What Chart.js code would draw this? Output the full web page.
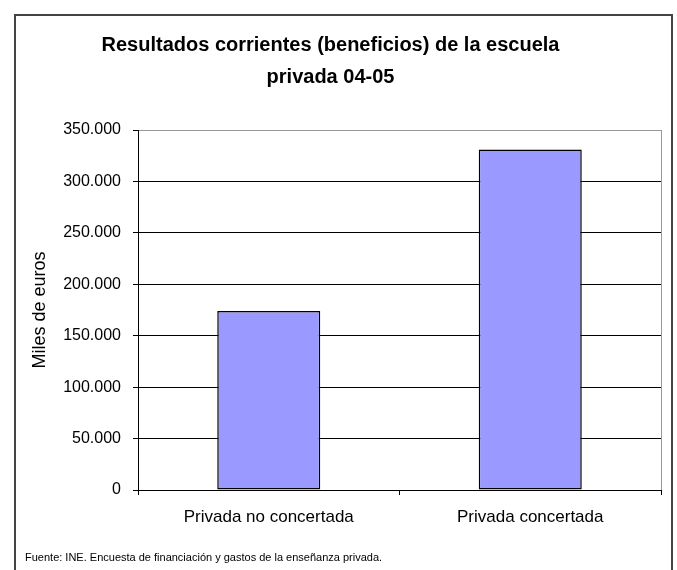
<!DOCTYPE html>
<html>
<head>
<meta charset="utf-8">
<script src="https://cdn.jsdelivr.net/npm/chart.js@4/dist/chart.umd.min.js"></script>
<style>
  body { margin: 0; background: #fff; }
  canvas { display: block; }
</style>
</head>
<body>
<canvas id="graph1" width="677" height="570"></canvas>
<script>
// chart data
const categories = ["Privada no concertada", "Privada concertada"];
const beneficios = [174000, 331000];
const titleLines = ["Resultados corrientes (beneficios) de la escuela", "privada 04-05"];
const yAxisTitle = "Miles de euros";
const yMax = 350000;
const yStep = 50000;
const sourceNote = "Fuente: INE. Encuesta de financiación y gastos de la enseñanza privada.";

const fontFamily = "'Liberation Sans', Arial, sans-serif";

// thousands with a dot, like 350.000
function fmt(v) {
    return String(v).replace(/\B(?=(\d{3})+(?!\d))/g, ".");
}

// outer frame, plot right edge and the source line
const framePlugin = {
    id: "frame",
    afterDraw(chart) {
        const ctx = chart.ctx;
        const a = chart.chartArea;
        ctx.save();
        ctx.strokeStyle = "#999";
        ctx.lineWidth = 1;
        ctx.beginPath();
        ctx.moveTo(a.right + 0.5, a.top);
        ctx.lineTo(a.right + 0.5, a.bottom);
        ctx.stroke();

        ctx.strokeStyle = "#444";
        ctx.lineWidth = 2;
        ctx.strokeRect(15, 15, 657, 570);

        ctx.fillStyle = "#000";
        ctx.font = "11px " + fontFamily;
        ctx.textBaseline = "middle";
        ctx.textAlign = "left";
        ctx.fillText(sourceNote, 25, 558);
        ctx.restore();
    }
};

const g1 = new Chart("graph1", {
    type: "bar",
    data: {
        labels: categories,
        datasets: [{
            label: "Beneficios",
            data: beneficios,
            backgroundColor: "#9999FF",
            borderColor: "#000",
            borderWidth: 1.5,
            borderSkipped: false,
            barPercentage: 0.394,
            categoryPercentage: 1.0
        }]
    },
    options: {
        responsive: false,
        animation: false,
        layout: { padding: { top: 0, left: 0, right: 16, bottom: 30 } },
        plugins: {
            legend: { display: false },
            tooltip: { enabled: false },
            title: {
                display: true,
                text: titleLines,
                color: "#000",
                font: { family: fontFamily, size: 20, weight: "bold", lineHeight: "32px" },
                padding: { top: 29, bottom: 37 }
            }
        },
        scales: {
            x: {
                grid: {
                    drawOnChartArea: false,
                    drawTicks: true,
                    tickLength: 5,
                    tickColor: "#000"
                },
                border: { color: "#000", width: 1 },
                ticks: {
                    color: "#000",
                    padding: 12,
                    font: { family: fontFamily, size: 17 }
                },
                afterFit(scale) { scale.height = 50; }
            },
            y: {
                min: 0,
                max: yMax,
                grid: {
                    color: ctx => (ctx.tick && ctx.tick.value === yMax) ? "#999" : "#000",
                    tickColor: "#000",
                    tickLength: 5
                },
                border: { color: "#000", width: 1 },
                ticks: {
                    stepSize: yStep,
                    color: "#000",
                    padding: 12,
                    font: { family: fontFamily, size: 16 },
                    callback: v => fmt(v)
                },
                title: {
                    display: true,
                    text: yAxisTitle,
                    color: "#000",
                    font: { family: fontFamily, size: 18 },
                    padding: { top: 29, bottom: 0 }
                },
                afterFit(scale) { scale.width = 138; }
            }
        }
    },
    plugins: [framePlugin]
});
</script>
</body>
</html>
